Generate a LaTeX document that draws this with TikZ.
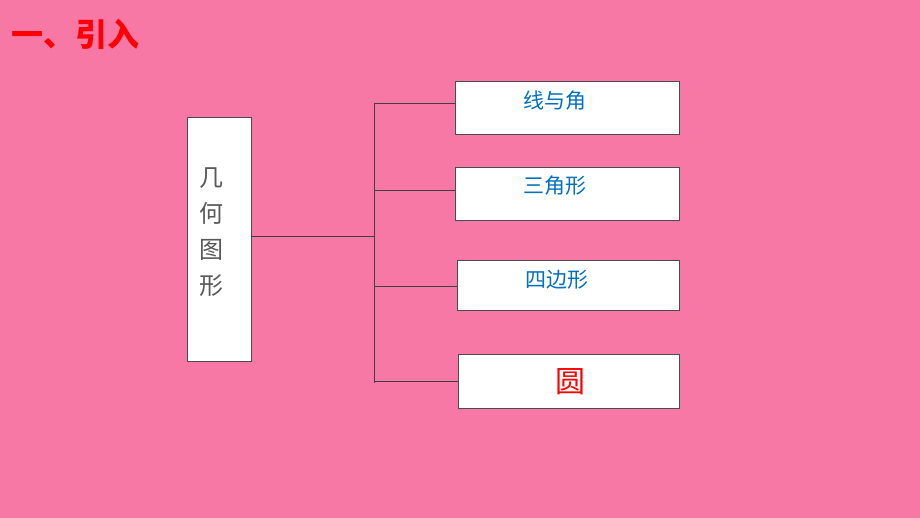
\documentclass[tikz,border=0pt]{standalone}
\usepackage{fontspec}
\newfontfamily\cjk{Noto Sans CJK SC}
\definecolor{bg}{HTML}{F778A4}
\definecolor{tblue}{HTML}{0070C0}
\definecolor{tgray}{HTML}{595959}
\begin{document}
\begin{tikzpicture}[x=1pt,y=-1pt,
  box/.style={draw=black!70,fill=white,line width=0.6pt},
  ln/.style={draw=black!75,line width=0.7pt},
  lbl/.style={font=\cjk\fontsize{21}{25}\selectfont,text=tblue}]
\fill[bg] (0,0) rectangle (920,518);
\useasboundingbox (0,0) rectangle (920,518);
\node[anchor=west,text=red,font=\cjk\bfseries\fontsize{32}{36}\selectfont] (title) at (8,34) {一、引入};
\node[box,minimum width=64pt,minimum height=244pt] (main) at (219,239) {};
\node[text=tgray,font=\cjk\fontsize{24}{36}\selectfont,align=center] (mt) at (211,232) {几\\何\\图\\形};
\node[box,minimum width=224pt,minimum height=53pt] (b1) at (567,107.5) {};
\node[box,minimum width=224pt,minimum height=53pt] (b2) at (567,193.5) {};
\node[box,minimum width=222pt,minimum height=50pt] (b3) at (568,285) {};
\node[box,minimum width=221pt,minimum height=54pt] (b4) at (568.5,381) {};
\node[lbl] (t1) at (555,101) {线与角};
\node[lbl] (t2) at (555,186) {三角形};
\node[lbl] (t3) at (557,280) {四边形};
\node[font=\cjk\fontsize{30}{34}\selectfont,text=red] (t4) at (570,382) {圆};
\coordinate (top) at (374,103);
\coordinate (bot) at (374,383);
\coordinate (mid) at (374,236);
\draw[ln] (top) -- (bot);
\draw[ln] (main.east |- mid) -- (mid);
\draw[ln] (top) -- (b1.west |- top);
\draw[ln] (374,190) -- (b2.west |- 0,190);
\draw[ln] (374,286) -- (b3.west |- 0,286);
\draw[ln] (374,381) -- (b4.west |- 0,381);
\end{tikzpicture}
\end{document}
